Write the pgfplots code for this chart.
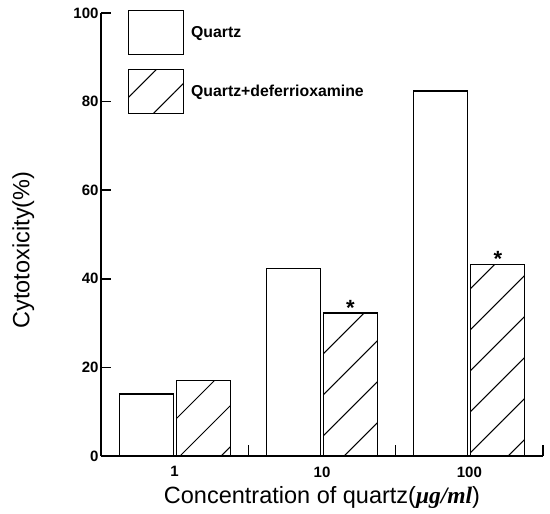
\documentclass[border=0pt]{standalone}
\usepackage{fontspec}
\setmainfont{Liberation Sans}
\newfontfamily\seriffont{Liberation Serif}
\usepackage{pgfplots}
\pgfplotsset{compat=1.18}
\usetikzlibrary{patterns.meta}
\begin{document}
\begin{tikzpicture}
\begin{axis}[
  scale only axis,
  width=442pt, height=443pt,
  xmin=-0.5, xmax=2.5, ymin=0, ymax=100,
  axis lines*=left,
  axis line style={line width=2pt},
  ybar, bar width=54pt,
  xtick={0,1,2}, xticklabels={1,10,100},
  minor xtick={0.5,1.5,2.5},
  ytick={0,20,40,60,80,100},
  tick align=inside,
  major tick length=10pt, minor tick length=11pt,
  major x tick style={draw=none},
  tick style={line width=1.6pt, black},
  /pgf/number format/assume math mode=true,
  ticklabel style={font=\bfseries\fontsize{15}{17}\selectfont},
  xticklabel style={yshift=-7pt},
  yticklabel style={xshift=1pt},
  xlabel={Concentration of quartz({\seriffont\bfseries\itshape μg/ml})},
  ylabel={Cytotoxicity(\%)},
  label style={font=\fontsize{23.5}{26}\selectfont},
  xlabel style={at={(axis description cs:0.5,-0.094)}, anchor=center},
  ylabel style={at={(axis description cs:-0.176,0.465)}, anchor=center},
  legend style={at={(axis description cs:0.0611,1.0068)}, anchor=north west,
    draw=none, fill=none, inner sep=0pt, outer sep=0pt,
    row sep=14pt, column sep=7pt, nodes={inner sep=0pt},
    font=\bfseries\fontsize{15.8}{17}\selectfont},
  legend cell align=left,
  legend image code/.code={\draw[#1] (0pt,-22pt) rectangle (55pt,22pt);},
]
\addplot[draw=black, fill=white, line width=1.2pt, bar shift=-28.5pt]
  coordinates {(0,14) (1,42.3) (2,82.4)};
\addlegendentry{Quartz}
\addplot[draw=black, line width=1.2pt, bar shift=28.5pt,
  pattern={Lines[angle=45,distance=29pt,line width=1pt]},
  nodes near coords, point meta=explicit symbolic,
  every node near coord/.append style={font=\bfseries\fontsize{22}{22}\selectfont, anchor=south, yshift=-6.5pt}]
  coordinates {(0,17) [] (1,32.3) [*] (2,43.3) [*]};
\addlegendentry{Quartz+deferrioxamine}
\end{axis}
\pgfresetboundingbox
\path ([xshift=-101pt,yshift=-57pt]current axis.south west) rectangle ([xshift=7pt,yshift=13pt]current axis.north east);
\end{tikzpicture}
\end{document}
